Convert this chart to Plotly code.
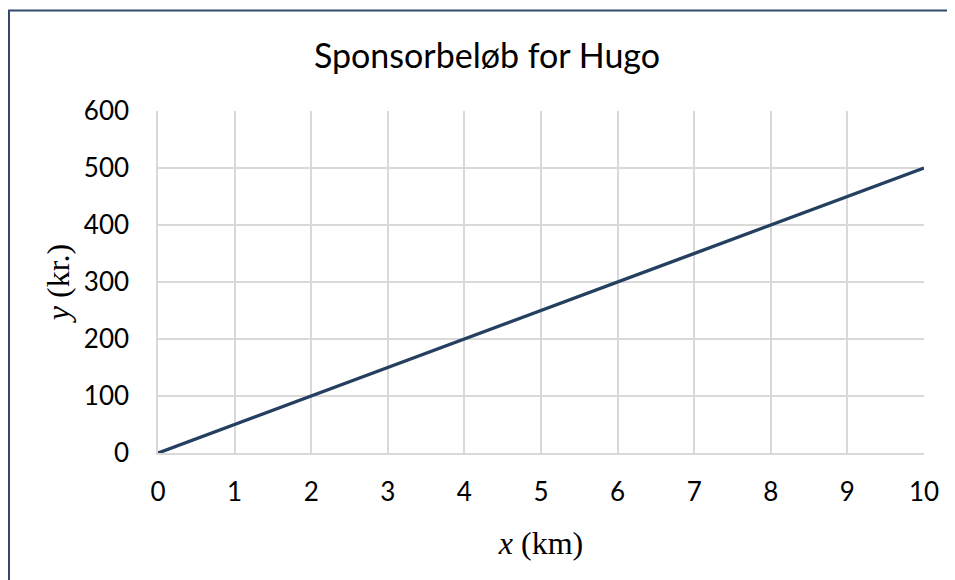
import plotly.graph_objects as go

x_km = [0, 1, 2, 3, 4, 5, 6, 7, 8, 9, 10]
y_kr = [0, 50, 100, 150, 200, 250, 300, 350, 400, 450, 500]
x_ticks = [0, 1, 2, 3, 4, 5, 6, 7, 8, 9, 10]
y_ticks = [0, 100, 200, 300, 400, 500, 600]

# page is shown with an 8px body margin, so figure coords = screen coords - 8
OFF = 8
W, H = 955, 580
L, R, T, B = 158 - OFF, 31 + OFF, 111 - OFF, 127 + OFF
pw, ph = W - L - R, H - T - B

fig = go.Figure()
fig.add_trace(go.Scatter(x=x_km, y=y_kr, mode="lines",
                         line=dict(color="#243F60", width=3.4), showlegend=False))

def px(xp):
    return (xp - OFF - L) / pw

def py(yp):
    return 1 + (T - (yp - OFF)) / ph

fig.add_shape(type="line", xref="paper", yref="paper",
              x0=px(9), x1=px(9), y0=py(10.5), y1=py(700),
              line=dict(color="#2F4A6E", width=2))
fig.add_shape(type="line", xref="paper", yref="paper",
              x0=px(8), x1=px(1100), y0=py(10.5), y1=py(10.5),
              line=dict(color="#2F4A6E", width=2))

fig.update_layout(
    width=W, height=H,
    margin=dict(l=L, r=R, t=T, b=B),
    paper_bgcolor="white", plot_bgcolor="white",
    title=dict(text="Sponsorbeløb for Hugo", x=(487 - OFF) / W, xanchor="center",
               y=1 - (56 - OFF) / H, yanchor="middle",
               font=dict(family="Lato, Open Sans, sans-serif", size=34, color="#000000")),
    font=dict(family="Lato, Open Sans, sans-serif", size=26, color="#000000"),
)
fig.update_xaxes(range=[0, 10], tickvals=x_ticks, ticks="", showgrid=True,
                 gridcolor="#D9D9D9", gridwidth=1.5, zeroline=False,
                 showline=True, linecolor="#D9D9D9", linewidth=1.5, mirror=False,
                 automargin=False, ticklabelstandoff=15,
                 title=dict(text="<i>x</i> (km)", standoff=26,
                            font=dict(family="Liberation Serif, DejaVu Serif, serif", size=32)))
fig.update_yaxes(range=[0, 600], tickvals=y_ticks, ticks="", showgrid=True,
                 gridcolor="#D9D9D9", gridwidth=1.5, zeroline=False,
                 showline=True, linecolor="#D9D9D9", linewidth=1.5,
                 automargin=False, ticklabelstandoff=22,
                 title=dict(text="<i>y</i> (kr.)", standoff=5,
                            font=dict(family="Liberation Serif, DejaVu Serif, serif", size=32)))

fig.write_html("out.html")
